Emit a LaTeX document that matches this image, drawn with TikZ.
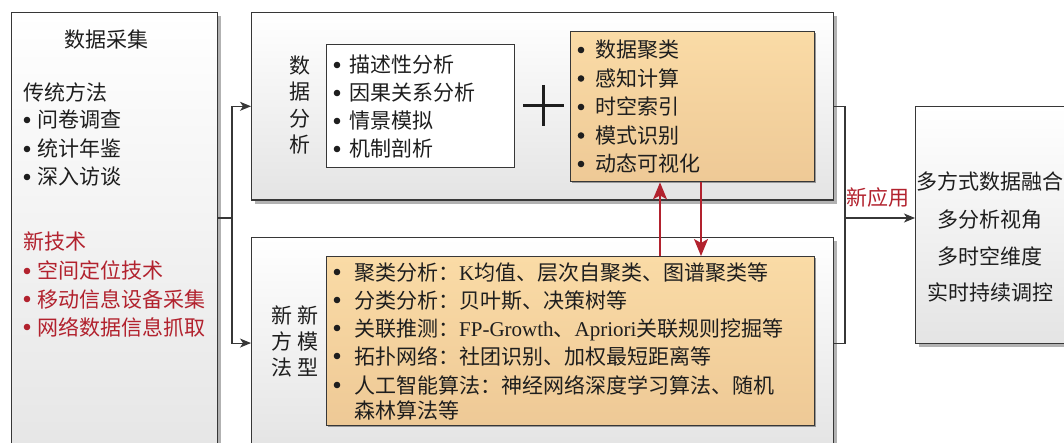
\documentclass[tikz,border=0pt]{standalone}
\usepackage{fontspec}
\setmainfont{Noto Sans CJK SC}
\newfontfamily\lat{Liberation Serif}
\usetikzlibrary{shadows,arrows.meta,calc}
\definecolor{myred}{RGB}{178,34,46}
\definecolor{orgtop}{RGB}{250,219,166}
\definecolor{orgbot}{RGB}{238,201,150}
\definecolor{boxgray}{RGB}{228,228,228}
\definecolor{edge}{RGB}{55,55,55}
\definecolor{txtc}{RGB}{30,30,30}
\begin{document}
\begin{tikzpicture}[x=1pt,y=-1pt,
  panel/.style={draw=edge, line width=1.1pt, top color=white, bottom color=boxgray,
    drop shadow={shadow xshift=3.5pt, shadow yshift=-3.5pt, fill=black!30, opacity=1},
    inner sep=0pt, anchor=north west},
  obox/.style={draw=edge, line width=1.4pt, top color=orgtop, bottom color=orgbot,
    drop shadow={shadow xshift=1.5pt, shadow yshift=-1.5pt, fill=black!40, opacity=1},
    inner sep=0pt, anchor=north west},
  wbox/.style={draw=edge, line width=1.1pt, fill=white, inner sep=0pt, anchor=north west},
  txt/.style={font=\fontsize{21pt}{25pt}\selectfont, text=txtc, inner sep=0pt,
    text height=18.5pt, text depth=2.5pt},
  rtxt/.style={txt, text=myred},
  conn/.style={draw=edge, line width=1.1pt},
  arr/.style={conn, -{Stealth[length=11pt,width=9pt,inset=3pt]}},
  redarr/.style={draw=myred, line width=1.5pt, -{Stealth[length=17pt,width=14pt,inset=4pt]}},
  plusline/.style={draw=txtc, line width=3pt}
]
\useasboundingbox (0,0) rectangle (1064,443);
\clip (0,0) rectangle (1064,443);

% panels
\node[panel, minimum width=206pt, minimum height=470pt] (collect) at (11,12) {};
\node[panel, minimum width=582pt, minimum height=187.5pt] (analysis) at (251,12) {};
\node[panel, minimum width=582pt, minimum height=211pt] (model) at (251,237) {};
\node[panel, minimum width=200pt, minimum height=237pt] (app) at (915,106) {};

% inner boxes
\node[wbox, minimum width=188pt, minimum height=123pt] (desc) at (326,44) {};
\node[obox, minimum width=244pt, minimum height=150pt] (tech) at (570,31) {};
\node[obox, minimum width=488pt, minimum height=169pt] (algo) at (326,256) {};

% left panel text
\node[txt] (c0) at (106,40) {数据采集};
\node[txt, anchor=west] (c1) at (23,93) {传统方法};
\foreach \i/\y/\t in {2/120/问卷调查, 3/149/统计年鉴, 4/177/深入访谈} {
  \fill[txtc] (27,\y) circle (3.3);
  \node[txt, anchor=west] (c\i) at (37,\y) {\t};
}
\node[rtxt, anchor=west] (n1) at (23,242) {新技术};
\foreach \i/\y/\t in {2/271/空间定位技术, 3/299/移动信息设备采集, 4/327/网络数据信息抓取} {
  \fill[myred] (27,\y) circle (3.3);
  \node[rtxt, anchor=west] (n\i) at (37,\y) {\t};
}

% analysis panel
\foreach \i/\y/\t in {1/66/数, 2/92/据, 3/119/分, 4/145/析} {
  \node[txt] (v\i) at (300,\y) {\t};
}
\foreach \i/\y/\t in {1/65/描述性分析, 2/93/因果关系分析, 3/121/情景模拟, 4/149/机制剖析} {
  \fill[txtc] (337,\y) circle (3.3);
  \node[txt, anchor=west] (d\i) at (349,\y) {\t};
}
\coordinate (plus) at (543.5,105.5);
\draw[plusline] ($(plus)+(-20.5,0)$) -- ($(plus)+(20.5,0)$);
\draw[plusline] ($(plus)+(0,-20.5)$) -- ($(plus)+(0,20.5)$);
\foreach \i/\y/\t in {1/50/数据聚类, 2/78.5/感知计算, 3/107/时空索引, 4/135.5/模式识别, 5/164/动态可视化} {
  \fill[txtc] (581,\y) circle (3.3);
  \node[txt, anchor=west] (t\i) at (595,\y) {\t};
}

% model panel
\foreach \i/\y/\a/\b in {1/315/新/新, 2/341/方/模, 3/367/法/型} {
  \node[txt] (m\i) at (282,\y) {\a};
  \node[txt] (k\i) at (308,\y) {\b};
}
\foreach \i/\y/\t in {1/272/{聚类分析：{\lat K}均值、层次自聚类、图谱聚类等},
                      2/300/{分类分析：贝叶斯、决策树等},
                      3/328/{关联推测：{\lat FP-Growth}、{\lat Apriori}关联规则挖掘等},
                      4/356/{拓扑网络：社团识别、加权最短距离等},
                      5/385/{人工智能算法：神经网络深度学习算法、随机}} {
  \fill[txtc] (337,\y) circle (3.3);
  \node[txt, anchor=west] (a\i) at (354,\y) {\t};
}
\node[txt, anchor=west] (a6) at (354,410) {森林算法等};

% application panel
\foreach \i/\y/\t in {1/182/多方式数据融合, 2/220/多分析视角, 3/257/多时空维度, 4/293/实时持续调控} {
  \node[txt] (r\i) at (990,\y) {\t};
}

% connectors
\coordinate (j1) at (232,218);
\draw[conn] (collect.east |- j1) -- (j1);
\draw[arr] (j1) |- (analysis.west);
\draw[arr] (j1) |- (model.west);

\coordinate (j2) at (845,218);
\draw[conn] (analysis.east) -| (j2);
\draw[conn] (model.east) -| (j2);
\draw[arr] (j2) -- (app.west |- j2);
\node[rtxt] (newapp) at (878,198) {新应用};

\coordinate (u1) at (660,218);
\coordinate (u2) at (701,218);
\draw[redarr] (u1 |- algo.north) -- (u1 |- tech.south);
\draw[redarr] (u2 |- tech.south) -- (u2 |- algo.north);
\end{tikzpicture}
\end{document}
